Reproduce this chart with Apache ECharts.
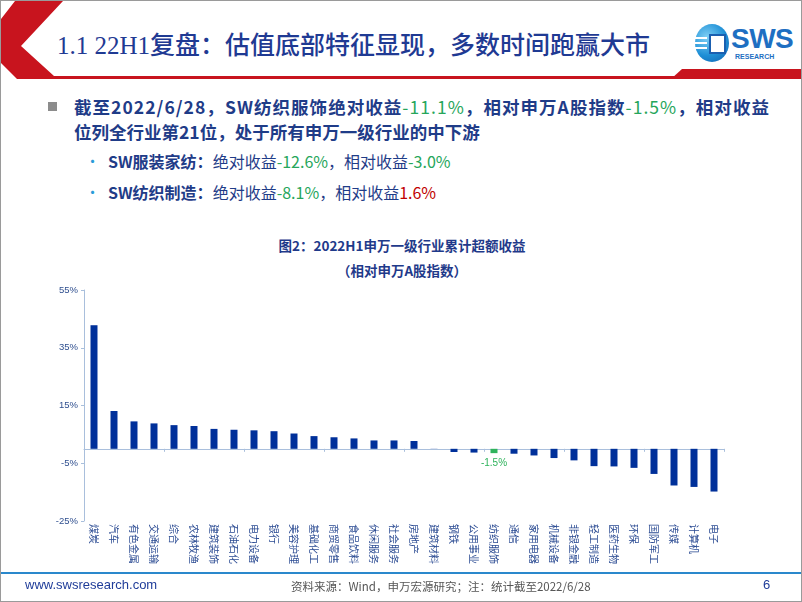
<!DOCTYPE html>
<html>
<head>
<meta charset="utf-8">
<script src="https://cdn.jsdelivr.net/npm/echarts@6/dist/echarts.min.js"></script>
<style>
  html,body{margin:0;padding:0;background:#fff;}
  #slide{position:relative;width:802px;height:602px;overflow:hidden;background:#fff;box-sizing:border-box;border:1px solid #9a9a9a;font-family:"Noto Sans CJK SC","Noto Sans",sans-serif;}
  #chart{position:absolute;left:0;top:0;width:802px;height:602px;}
  .abs{position:absolute;white-space:nowrap;}
  .hdr{left:56px;top:28px;font-family:"Liberation Serif","DejaVu Serif","Noto Sans CJK SC",serif;font-size:25px;font-weight:500;color:#1f3a93;line-height:34px;}
  .b1{left:73px;font-size:17.5px;font-weight:bold;color:#1f3c88;line-height:24px;}
  .g{color:#26a65b;font-weight:normal;}
  .r{color:#c00000;font-weight:normal;}
  .sub{left:107px;font-size:16px;color:#1f3c88;line-height:22px;}
  .sub b{font-weight:bold;}
  .dot{font-size:15px;color:#2a9bd8;}
  .ct{left:0;width:802px;text-align:center;font-size:13.5px;font-weight:bold;color:#1f3a8a;}
  .foot{font-size:12px;}
</style>
</head>
<body>
<div id="slide">
  <svg class="abs" style="left:0;top:0" width="802" height="82">
    <polygon points="14,0 62,0 20,45 53,75 802,75 802,78 16,78 0,62 0,18" fill="#c8141e"/>
    <polygon points="670,78 681,68 802,68 802,78" fill="#c8141e"/>
  </svg>
  <div class="abs hdr">1.1 22H1复盘：估值底部特征显现，多数时间跑赢大市</div>
  <!-- logo -->
  <div class="abs" style="left:694px;top:23px;width:34px;height:38px;border-radius:50%;background:radial-gradient(circle at 35% 35%,#7fd0f5,#1e8fd6 55%,#0f5fae);"></div>
  <div class="abs" style="left:708px;top:33px;width:13px;height:16px;background:#fff;border:2px solid #1a5fb0;"></div>
  <div class="abs" style="left:694px;top:36px;width:12px;height:2px;background:#fff;"></div>
  <div class="abs" style="left:694px;top:41px;width:12px;height:2px;background:#fff;"></div>
  <div class="abs" style="left:694px;top:46px;width:12px;height:2px;background:#fff;"></div>
  <div class="abs" style="left:730px;top:23px;font-family:'Liberation Sans',Arial,sans-serif;font-weight:bold;font-size:28px;color:#1e6fc2;line-height:30px;letter-spacing:-0.5px;">SWS</div>
  <div class="abs" style="left:734px;top:52px;font-family:'Liberation Sans',Arial,sans-serif;font-weight:bold;font-size:7px;color:#1e6fc2;line-height:8px;">RESEARCH</div>

  <div class="abs" style="left:47px;top:101px;width:9px;height:9px;background:#8c8c8c;"></div>
  <div class="abs b1" style="top:94px;letter-spacing:1.05px;">截至2022/6/28，SW纺织服饰绝对收益<span class="g">-11.1%</span>，相对申万A股指数<span class="g">-1.5%</span>，相对收益</div>
  <div class="abs b1" style="top:119px;">位列全行业第21位，处于所有申万一级行业的中下游</div>
  <div class="abs dot" style="left:84px;top:149px;">•</div>
  <div class="abs sub" style="top:149px;"><b>SW服装家纺：</b>绝对收益<span class="g">-12.6%</span>，相对收益<span class="g">-3.0%</span></div>
  <div class="abs dot" style="left:84px;top:180px;">•</div>
  <div class="abs sub" style="top:180px;"><b>SW纺织制造：</b>绝对收益<span class="g">-8.1%</span>，相对收益<span class="r">1.6%</span></div>

  <div class="abs ct" style="top:234px;">图2：2022H1申万一级行业累计超额收益</div>
  <div class="abs ct" style="top:259px;">（相对申万A股指数）</div>

  <div id="chart"></div>

  <div class="abs" style="left:0;top:571px;width:802px;height:2px;background:#2a88cc;"></div>
  <div class="abs foot" style="left:24px;top:576px;color:#1f3c99;font-family:'Liberation Sans',Arial,sans-serif;font-size:13px;">www.swsresearch.com</div>
  <div class="abs foot" style="left:290px;top:577px;color:#555;font-size:11.5px;">资料来源：Wind，申万宏源研究；注：统计截至2022/6/28</div>
  <div class="abs foot" style="left:762px;top:576px;color:#1f3c99;font-family:'Liberation Sans',Arial,sans-serif;font-size:13px;">6</div>
</div>
<script>
const categories = ['煤炭','汽车','有色金属','交通运输','综合','农林牧渔','建筑装饰','石油石化','电力设备','银行','美容护理','基础化工','商贸零售','食品饮料','休闲服务','社会服务','房地产','建筑材料','钢铁','公用事业','纺织服饰','通信','家用电器','机械设备','非银金融','轻工制造','医药生物','环保','国防军工','传媒','计算机','电子'];
const excessReturn = [42.8,13.1,9.5,8.8,8.2,7.9,6.9,6.6,6.4,6.1,5.3,4.4,4.0,3.6,2.9,2.9,2.7,0.05,-1.1,-1.3,-1.5,-1.7,-2.3,-3.2,-4.0,-6.0,-6.1,-6.6,-8.7,-12.7,-13.2,-14.8];
const yTicks = [-25,-5,15,35,55];
const highlightCategory = '纺织服饰';

const BLUE = '#00309a', GREEN = '#2fb35c';
const seriesData = excessReturn.map((v, i) => categories[i] === highlightCategory ? {
  value: v,
  itemStyle: {color: GREEN},
  label: {show: true, position: 'bottom', distance: 5, color: GREEN, fontSize: 10,
          fontFamily: 'Liberation Sans, Arial, sans-serif', formatter: p => p.value.toFixed(1) + '%'}
} : v);

const chart = echarts.init(document.getElementById('chart'), null, {renderer: 'canvas'});
const axisColor = '#a9bfdc';
chart.setOption({
  animation: false,
  grid: {left: 83, top: 289, width: 640, height: 231, containLabel: false},
  xAxis: [{
    type: 'category', data: categories, position: 'bottom', boundaryGap: true,
    axisLine: {show: true, onZero: true, lineStyle: {color: axisColor, width: 1}},
    axisTick: {show: true, length: 3, lineStyle: {color: axisColor}},
    axisLabel: {show: false}
  }, {
    type: 'category', data: categories, position: 'bottom', boundaryGap: true,
    axisLine: {show: false, onZero: false},
    axisTick: {show: false},
    axisLabel: {show: true, interval: 0, rotate: -90, margin: 3, fontSize: 10, color: '#2a4a92',
                fontFamily: 'Noto Sans CJK SC, sans-serif'}
  }],
  yAxis: {
    type: 'value', min: yTicks[0], max: yTicks[yTicks.length - 1], interval: yTicks[1] - yTicks[0],
    axisLine: {show: true, lineStyle: {color: axisColor}},
    axisTick: {show: true, length: 3, lineStyle: {color: axisColor}},
    splitLine: {show: false},
    axisLabel: {formatter: '{value}%', fontSize: 9.5, color: '#2f4f8f', margin: 6,
                fontFamily: 'Liberation Sans, Arial, sans-serif'}
  },
  series: [{
    type: 'bar', xAxisIndex: 0, data: seriesData, barWidth: 7,
    itemStyle: {color: BLUE}
  }]
});
</script>
</body>
</html>
